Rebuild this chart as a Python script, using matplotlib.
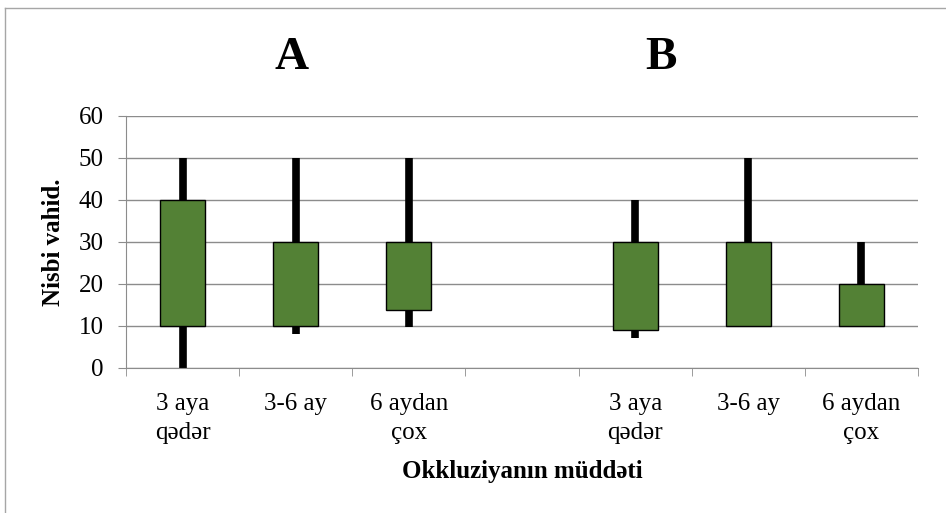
import matplotlib.pyplot as plt
from matplotlib.lines import Line2D
import numpy as np

plt.rcParams['font.family'] = ['Liberation Serif', 'DejaVu Serif']

categories = ['3 aya\nqədər', '3-6 ay', '6 aydan\nçox', '',
              '3 aya\nqədər', '3-6 ay', '6 aydan\nçox']
whisker_low = [0, 8, 9.7, np.nan, 7.2, 10, 10]
whisker_high = [50, 50, 50, np.nan, 40, 50, 30]
box_low = [10, 10, 13.8, np.nan, 9, 10, 10]
box_high = [40, 30, 30, np.nan, 30, 30, 20]
group_labels = ['A', 'B']

W, H = 946, 513
fig = plt.figure(figsize=(W / 100, H / 100), dpi=100)
ax = fig.add_axes([126 / W, 1 - 368 / H, (918 - 126) / W, (368 - 116) / H])

x = np.arange(len(categories))
lo = np.array(box_low, dtype=float)
hi = np.array(box_high, dtype=float)

# whiskers behind boxes
ax.vlines(x, whisker_low, whisker_high, colors='black', lw=5.5, zorder=2,
          capstyle='butt')
ax.bar(x, hi - lo, bottom=lo, width=0.4, color='#538135', edgecolor='black',
       linewidth=1, zorder=3)

ax.set_xlim(-0.5, len(categories) - 0.5)
ax.set_ylim(0, 60)
ax.set_yticks(range(0, 61, 10))
ax.yaxis.grid(True, color='#8c8c8c', lw=1)
ax.set_axisbelow(True)

ax.set_xticks(x)
ax.set_xticklabels(categories, fontsize=18, linespacing=1.4)
ax.set_xticks(np.arange(-0.5, len(categories)), minor=True)
ax.tick_params(axis='x', which='major', length=0, pad=18)
ax.tick_params(axis='x', which='minor', length=6, color='#8c8c8c')
ax.tick_params(axis='y', length=6, color='#8c8c8c', labelsize=18, pad=10)

for s in ['top', 'right']:
    ax.spines[s].set_visible(False)
for s in ['left', 'bottom']:
    ax.spines[s].set_color('#8c8c8c')

ax.set_xlabel('Okkluziyanın müddəti', fontsize=18, fontweight='bold', labelpad=12)
ax.set_ylabel('Nisbi vahid.', fontsize=18, fontweight='bold', labelpad=10)

fig.text(292 / W, 1 - 58 / H, group_labels[0], fontsize=34, fontweight='bold',
         ha='center', va='center')
fig.text(661 / W, 1 - 58 / H, group_labels[1], fontsize=34, fontweight='bold',
         ha='center', va='center')

# outer chart frame
fig.add_artist(Line2D([5 / W, 5 / W], [0, 1 - 8 / H], color='#a6a6a6', lw=1))
fig.add_artist(Line2D([5 / W, 1], [1 - 8 / H, 1 - 8 / H], color='#a6a6a6', lw=1))

fig.savefig('out.png', dpi=100)
